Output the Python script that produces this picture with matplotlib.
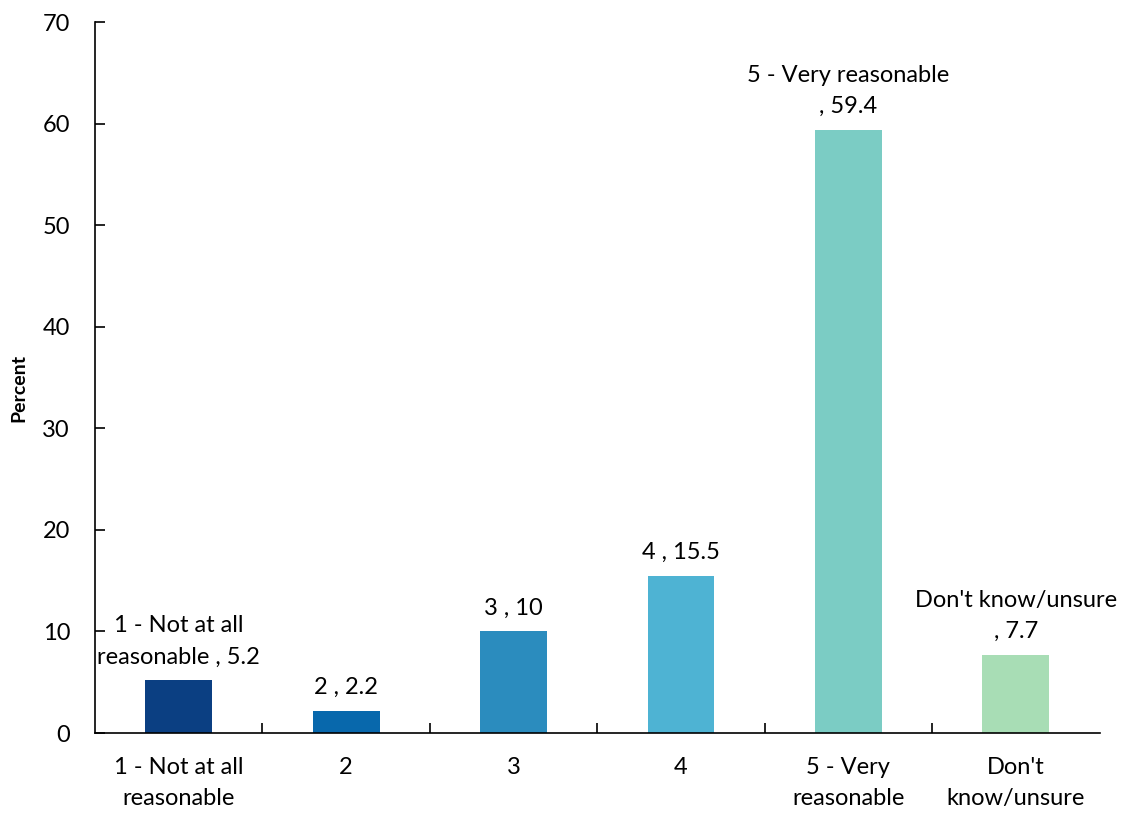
import matplotlib
matplotlib.use('Agg')
import matplotlib.pyplot as plt

# Data
categories = ['1 - Not at all\nreasonable', '2', '3', '4', '5 - Very\nreasonable', "Don't\nknow/unsure"]
values = [5.2, 2.2, 10, 15.5, 59.4, 7.7]
bar_labels = ['1 - Not at all\nreasonable , 5.2', '2 , 2.2', '3 , 10', '4 , 15.5',
              '5 - Very reasonable\n, 59.4', "Don't know/unsure\n, 7.7"]
colors = ['#0b3f82', '#0868ac', '#2b8cbe', '#4eb3d3', '#7bccc4', '#a8ddb5']

plt.rcParams['font.family'] = ['Lato', 'DejaVu Sans']

fig = plt.figure(figsize=(11.22, 8.15), dpi=100)
ax = fig.add_axes([0.0847, 0.1006, 0.8953, 0.8724])

x = range(len(categories))
ax.bar(x, values, width=0.4, color=colors)

# value labels above bars
for i, (v, lab) in enumerate(zip(values, bar_labels)):
    ax.annotate(lab, xy=(i, v), xytext=(0, 9), textcoords='offset points',
                ha='center', va='bottom', fontsize=17, linespacing=1.6)

ax.set_xlim(-0.5, len(categories) - 0.5)
ax.set_ylim(0, 70)
ax.set_yticks(range(0, 71, 10))
ax.set_xticks(x)
ax.set_xticklabels(categories, fontsize=17, linespacing=1.6)
ax.set_xticks([i + 0.5 for i in range(len(categories) - 1)], minor=True)
ax.tick_params(axis='y', direction='in', length=7, width=1.2, labelsize=17, pad=18)
ax.tick_params(axis='x', which='major', length=0, pad=17)
ax.tick_params(axis='x', which='minor', direction='in', length=7, width=1.2)

for s in ['top', 'right']:
    ax.spines[s].set_visible(False)
for s in ['left', 'bottom']:
    ax.spines[s].set_linewidth(1.2)

fig.text(0.017, 0.524, 'Percent', rotation=90, fontsize=14, fontweight='bold',
         ha='center', va='center')

plt.savefig('out.png', dpi=100)
plt.close()
